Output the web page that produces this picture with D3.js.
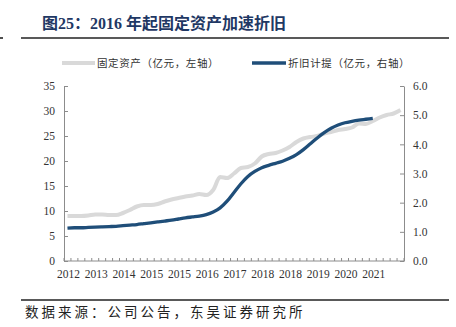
<!DOCTYPE html>
<html><head><meta charset="utf-8">
<script src="https://cdn.jsdelivr.net/npm/d3@7"></script>
<style>body{margin:0;background:#fff}svg{display:block}</style>
</head><body><svg id="c" width="456" height="327"></svg>
<script>
const xLabels = ["2012","2013","2014","2015","2015","2016","2017","2018","2018","2019","2020","2021"];
const labelEvery = 4;
const nCategories = 49;
const fixedAssets = [9.0,9.0,9.0,9.1,9.3,9.3,9.2,9.2,9.6,10.2,10.9,11.2,11.2,11.4,11.9,12.3,12.6,12.9,13.1,13.4,13.2,14.2,16.8,16.6,17.5,18.6,18.8,19.5,20.9,21.4,21.6,22.1,22.8,23.8,24.5,24.8,25.0,25.5,25.8,26.2,26.4,26.7,27.5,27.4,28.0,28.7,29.2,29.5,30.2];
const depreciation = [1.13,1.14,1.14,1.15,1.16,1.17,1.18,1.19,1.21,1.23,1.25,1.28,1.31,1.34,1.37,1.40,1.44,1.48,1.51,1.54,1.59,1.68,1.82,2.05,2.35,2.65,2.90,3.07,3.20,3.28,3.35,3.42,3.52,3.65,3.82,4.02,4.22,4.40,4.55,4.66,4.74,4.79,4.83,4.86,4.89];
const leftTicks = [0,5,10,15,20,25,30,35];
const rightTicks = [0,1,2,3,4,5,6];
const seriesNames = ["固定资产（亿元，左轴）","折旧计提（亿元，右轴）"];
const title = "图25：2016 年起固定资产加速折旧";
const source = "数据来源：公司公告，东吴证券研究所";

const svg = d3.select("#c");
const L = 64, R = 404, T = 86, B = 261;
const axisColor = "#8c8c8c";
const serif = "'Liberation Serif','Times New Roman',serif";
const cjk = "'Noto Sans CJK SC',sans-serif";

// title
svg.append("text").attr("x",42).attr("y",29).attr("fill","#1f3864")
  .attr("font-family",serif+","+cjk).attr("font-weight","bold").attr("font-size",16).text(title);
svg.append("line").attr("x1",21).attr("x2",449).attr("y1",38).attr("y2",38).attr("stroke","#222").attr("stroke-width",1.6);
svg.append("line").attr("x1",0).attr("x2",3).attr("y1",38).attr("y2",38).attr("stroke","#222").attr("stroke-width",1.6);

const x = d3.scaleBand().domain(d3.range(nCategories)).range([L,R]);
const yL = d3.scaleLinear().domain([0,35]).range([B,T]);
const yR = d3.scaleLinear().domain([0,6]).range([B,T]);

// left axis
const gl = svg.append("g").attr("transform",`translate(${L},0)`)
  .call(d3.axisLeft(yL).tickValues(leftTicks).tickSizeInner(-4).tickSizeOuter(0).tickPadding(9));
gl.select(".domain").attr("stroke",axisColor);
gl.selectAll(".tick line").attr("stroke",axisColor);
gl.selectAll("text").attr("font-family",serif).attr("font-size",11.5).attr("fill","#333");

// right axis
const gr = svg.append("g").attr("transform",`translate(${R},0)`)
  .call(d3.axisRight(yR).tickValues(rightTicks).tickFormat(d3.format(".1f")).tickSizeInner(-4).tickSizeOuter(0).tickPadding(9));
gr.select(".domain").attr("stroke",axisColor);
gr.selectAll(".tick line").attr("stroke",axisColor);
gr.selectAll("text").attr("font-family",serif).attr("font-size",11.5).attr("fill","#333");

// x axis
const gx = svg.append("g").attr("transform",`translate(0,${B})`);
gx.append("line").attr("x1",L).attr("x2",R).attr("stroke",axisColor);
const bounds = d3.range(nCategories+1).map(i => i < nCategories ? x(i) : x(nCategories-1)+x.bandwidth());
gx.selectAll("line.t").data(bounds).join("line").attr("class","t")
  .attr("x1",d=>d).attr("x2",d=>d).attr("y1",0).attr("y2",-3).attr("stroke",axisColor);
gx.selectAll("text").data(xLabels).join("text")
  .attr("x",(d,i)=>x(i*labelEvery)+x.bandwidth()/2+1).attr("y",17)
  .attr("text-anchor","middle").attr("font-family",serif).attr("font-size",11.5).attr("fill","#333").text(d=>d);

// lines
const cx = i => x(i)+x.bandwidth()/2;
const lineL = d3.line().x((d,i)=>cx(i)).y(d=>yL(d)).curve(d3.curveMonotoneX);
const lineR = d3.line().x((d,i)=>cx(i)).y(d=>yR(d)).curve(d3.curveMonotoneX);
svg.append("path").attr("d",lineL(fixedAssets)).attr("fill","none").attr("stroke","#d9d9d9").attr("stroke-width",4);
svg.append("path").attr("d",lineR(depreciation)).attr("fill","none").attr("stroke","#1f4e79").attr("stroke-width",3.3);

// legend
const leg = [{x1:62,x2:95,c:"#d9d9d9",w:4,tx:97},{x1:252,x2:286,c:"#1f4e79",w:3.3,tx:288}];
leg.forEach((l,i)=>{
  svg.append("line").attr("x1",l.x1).attr("x2",l.x2).attr("y1",63).attr("y2",63).attr("stroke",l.c).attr("stroke-width",l.w);
  svg.append("text").attr("x",l.tx).attr("y",67).attr("font-family",cjk).attr("font-size",10.5)
    .attr("letter-spacing",0.6).attr("fill","#333").text(seriesNames[i]);
});

// footer
svg.append("line").attr("x1",21).attr("x2",449).attr("y1",300).attr("y2",300).attr("stroke","#222").attr("stroke-width",1.6);
svg.append("text").attr("x",25).attr("y",317).attr("font-family",cjk).attr("font-size",13.5)
  .attr("letter-spacing",3).attr("fill","#222").text(source);
</script></body></html>
